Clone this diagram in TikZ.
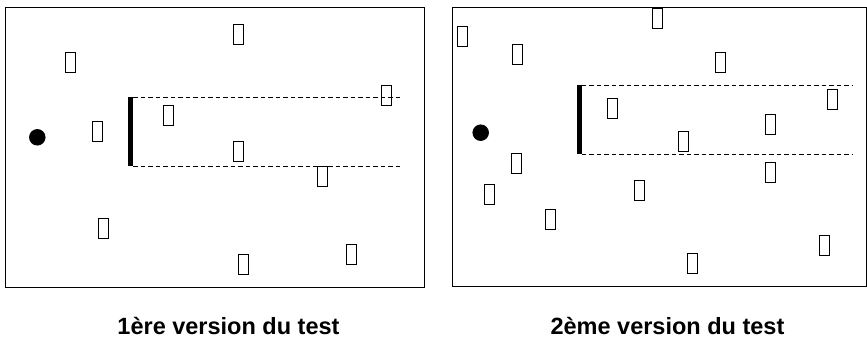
\documentclass[tikz,border=0pt]{standalone}
\usepackage{fontspec}
\setmainfont{Liberation Sans}
\begin{document}
\begin{tikzpicture}[x=1pt,y=-1pt,
  frame/.style={draw=black,line width=1.3pt},
  target/.style={draw=black,line width=1pt,fill=white,minimum width=10pt,minimum height=20pt,inner sep=0pt,outer sep=0pt},
  screen/.style={fill=black,minimum width=5pt,inner sep=0pt,outer sep=0pt},
  viewer/.style={circle,fill=black,minimum size=16.5pt,inner sep=0pt},
  beam/.style={draw=black,line width=0.9pt,dash pattern=on 4.5pt off 3pt},
  caption/.style={font=\bfseries\fontsize{23.5}{26}\selectfont,inner sep=0pt,anchor=base}]
\useasboundingbox (0,0) rectangle (867,340);
\fill[white] (0,0) rectangle (867,340);

% ---------- first layout ----------
\node[frame,minimum width=419pt,minimum height=280pt,inner sep=0pt,anchor=north west] (frameA) at (5,7) {};
\node[viewer] (eyeA) at (37.3,137.3) {};
\node[screen,minimum height=69pt,anchor=north] (barA) at (130.5,97) {};
\coordinate (topEndA) at (403,97);
\coordinate (botEndA) at (403,166);
\draw[beam] (barA.north east) -- (topEndA);
\draw[beam] (barA.south east) -- (botEndA);
\node[target] (a1) at (238,34.7) {};
\node[target] (a2) at (70.7,62.3) {};
\node[target,fill=none] (a3) at (386.3,95.3) {};
\node[target] (a4) at (168,115) {};
\node[target] (a5) at (97.7,131.7) {};
\node[target] (a6) at (238,151.3) {};
\node[target] (a7) at (322.7,176) {};
\node[target] (a8) at (103.7,228.3) {};
\node[target] (a9) at (351.7,254.3) {};
\node[target] (a10) at (243,264) {};
\node[caption] (capA) at (228.5,334) {1ère version du test};

% ---------- second layout ----------
\node[frame,minimum width=414pt,minimum height=279pt,inner sep=0pt,anchor=north west] (frameB) at (452,7) {};
\node[viewer] (eyeB) at (480.7,132.7) {};
\node[screen,minimum height=69pt,anchor=north] (barB) at (579,85.3) {};
\coordinate (topEndB) at (852,85.3);
\coordinate (botEndB) at (852,154.3);
\draw[beam] (barB.north east) -- (topEndB);
\draw[beam] (barB.south east) -- (botEndB);
\node[target] (b1) at (462.3,36.7) {};
\node[target] (b2) at (657.7,18.3) {};
\node[target] (b3) at (517.3,54.7) {};
\node[target] (b4) at (720,62.3) {};
\node[target] (b5) at (832.3,99) {};
\node[target] (b6) at (612.3,108) {};
\node[target] (b7) at (770.7,124.7) {};
\node[target] (b8) at (683.3,141.7) {};
\node[target] (b9) at (516.3,163.3) {};
\node[target] (b10) at (770.7,172.3) {};
\node[target] (b11) at (639,190) {};
\node[target] (b12) at (489.7,194) {};
\node[target] (b13) at (550,219) {};
\node[target] (b14) at (824.3,245.3) {};
\node[target] (b15) at (692.7,263.3) {};
\node[caption] (capB) at (667.5,334) {2ème version du test};
\end{tikzpicture}
\end{document}
